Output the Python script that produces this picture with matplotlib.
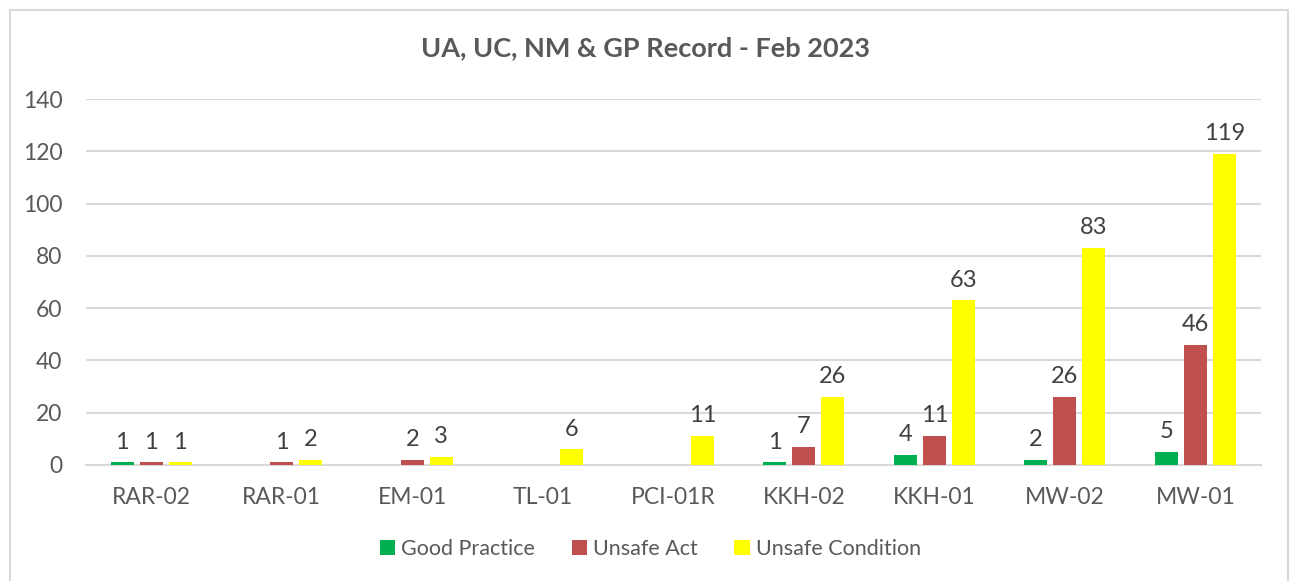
import matplotlib.pyplot as plt
from matplotlib.patches import Rectangle
import numpy as np

plt.rcParams['font.family'] = ['Lato', 'DejaVu Sans']

sites = ['RAR-02', 'RAR-01', 'EM-01', 'TL-01', 'PCI-01R', 'KKH-02', 'KKH-01', 'MW-02', 'MW-01']
good_practice = [1, 0, 0, 0, 0, 1, 4, 2, 5]
unsafe_act = [1, 1, 2, 0, 0, 7, 11, 26, 46]
unsafe_condition = [1, 2, 3, 6, 11, 26, 63, 83, 119]

series = [
    ('Good Practice', good_practice, '#00B050'),
    ('Unsafe Act', unsafe_act, '#C0504D'),
    ('Unsafe Condition', unsafe_condition, '#FFFF00'),
]

fig = plt.figure(figsize=(12.93, 5.81), dpi=100)
ax = fig.add_axes([0.0665, 0.1997, 0.9085, 0.6299])

# outer chart border
fig.patches.append(Rectangle((10 / 1293, -0.05), 1278 / 1293, 1.05 - 10 / 581,
                             transform=fig.transFigure, fill=False,
                             edgecolor='#D9D9D9', linewidth=1.5))

x = np.arange(len(sites))
step = 0.222
width = 0.176
for i, (name, vals, col) in enumerate(series):
    pos = x + (i - 1) * step
    ax.bar(pos, vals, width, color=col, label=name, zorder=3)
    for p, v in zip(pos, vals):
        if v > 0:
            ax.annotate(str(v), (p, v), xytext=(0, 7), textcoords='offset points',
                        ha='center', va='bottom', fontsize=17, color='#404040')

ax.set_xlim(-0.5, len(sites) - 0.5)
ax.set_ylim(0, 140)
ax.set_yticks(range(0, 141, 20))
ax.set_xticks(x)
ax.set_xticklabels(sites)
ax.tick_params(axis='both', length=0, labelsize=16.5, labelcolor='#595959')
ax.tick_params(axis='y', pad=17)
ax.tick_params(axis='x', pad=16)
ax.grid(axis='y', color='#D9D9D9', linewidth=1.5, zorder=0)
for s in ['top', 'right', 'left']:
    ax.spines[s].set_visible(False)
ax.spines['bottom'].set_color('#D9D9D9')
ax.spines['bottom'].set_linewidth(1.5)

fig.text(0.499, 1 - 48 / 581, 'UA, UC, NM & GP Record - Feb 2023', ha='center',
         va='center', fontsize=19.5, fontweight='bold', color='#595959')

fig.legend(loc='center', bbox_to_anchor=(0.503, 1 - 549 / 581), ncol=3,
           frameon=False, fontsize=15.5, labelcolor='#595959',
           handlelength=0.7, handleheight=0.7, handletextpad=0.3,
           columnspacing=1.7)

fig.savefig('out.png', dpi=100)
